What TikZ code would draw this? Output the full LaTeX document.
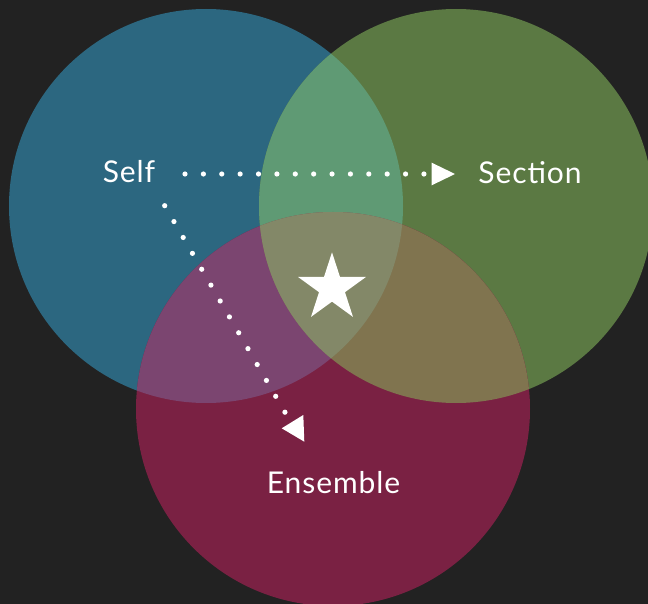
\documentclass[tikz,border=0pt]{standalone}
\usepackage{fontspec}
\setmainfont{Lato}[LetterSpace=3]
\usetikzlibrary{shapes.geometric}
\definecolor{bgc}{HTML}{222222}
\definecolor{cblue}{HTML}{2C6780}
\definecolor{cgreen}{HTML}{5B7943}
\definecolor{cred}{HTML}{7A2143}
\definecolor{cbg}{HTML}{5F9A74}
\definecolor{cbr}{HTML}{7B4570}
\definecolor{cgr}{HTML}{80744F}
\definecolor{call}{HTML}{838868}
\tikzset{
  lbl/.style={text=white, font=\fontsize{30}{35}\selectfont, inner sep=0pt, anchor=base},
  dotline/.style={white, line width=5.2pt, line cap=round, dash pattern=on 0pt off 18.38pt},
  tip/.style={fill=white, draw=none}
}
\begin{document}
\begin{tikzpicture}[x=1pt,y=-1pt]
\fill[bgc] (0,0) rectangle (648,604);
\useasboundingbox (0,0) rectangle (648,604);
\def\Rc{197}
% base circles
\fill[cblue] (206,206) circle (\Rc);
\fill[cgreen] (456,206) circle (\Rc);
\fill[cred] (333,409) circle (\Rc);
% pairwise overlaps
\begin{scope}
  \clip (206,206) circle (\Rc);
  \fill[cbg] (456,206) circle (\Rc);
  \fill[cbr] (333,409) circle (\Rc);
\end{scope}
\begin{scope}
  \clip (456,206) circle (\Rc);
  \fill[cgr] (333,409) circle (\Rc);
\end{scope}
\begin{scope}
  \clip (206,206) circle (\Rc);
  \clip (456,206) circle (\Rc);
  \fill[call] (333,409) circle (\Rc);
\end{scope}
% star
\node[star, star points=5, star point ratio=2.618, minimum size=71.4pt, inner sep=0pt, fill=white, draw=none] (star) at (332,288) {};
% labels
\node[lbl] (self) at (129,183) {Self};
\node[lbl] (section) at (530,184) {Section};
\node[lbl] (ensemble) at (333.5,493) {Ensemble};
% connectors
\coordinate (h0) at (185,174);
\coordinate (h1) at (424,174);
\coordinate (d0) at (164.7,205.7);
\coordinate (d1) at (285,412.3);
\draw[dotline] (h0) -- (h1);
\draw[dotline] (d0) -- (d1);
\fill[tip] (431.7,162.7) -- (455,174) -- (431.7,185.3) -- cycle;
\fill[tip] (281.7,428.3) -- (303.3,415) -- (304.3,441.7) -- cycle;
\end{tikzpicture}
\end{document}
